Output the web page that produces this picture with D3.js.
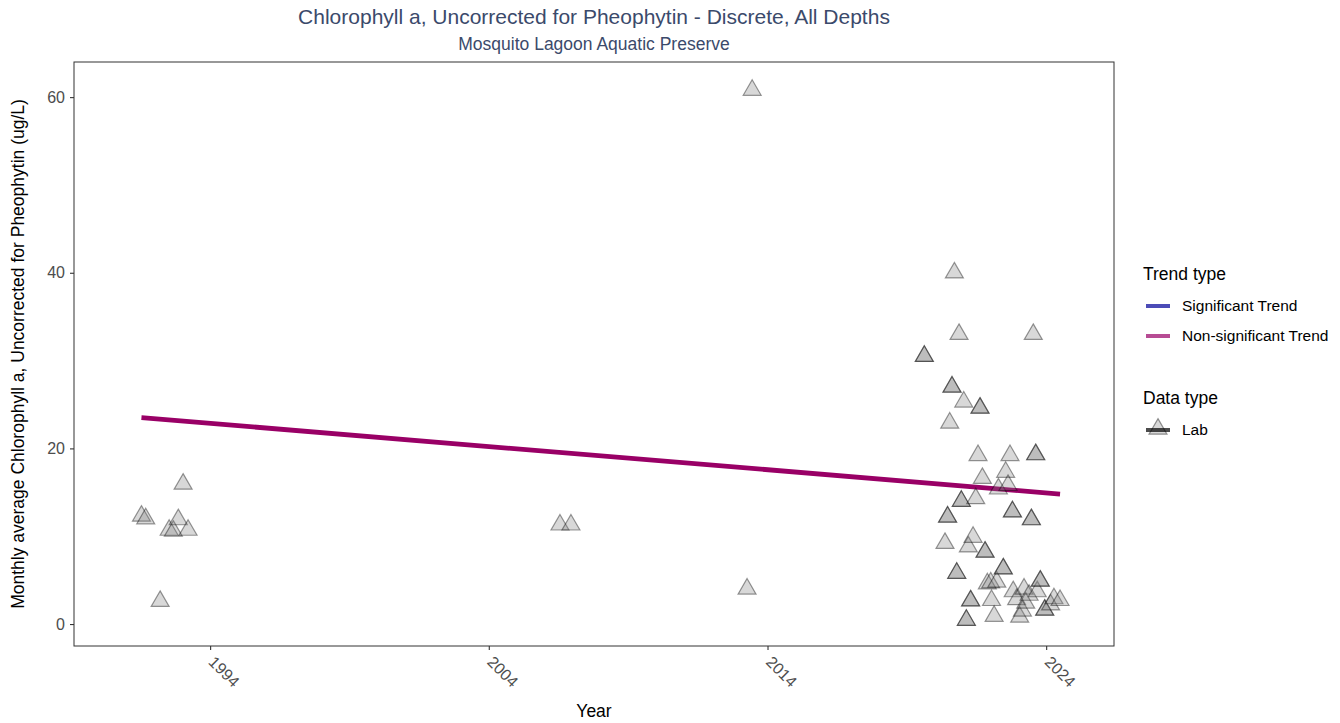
<!DOCTYPE html>
<html>
<head>
<meta charset="utf-8">
<script src="https://cdn.jsdelivr.net/npm/d3@7"></script>
<style>
  body { margin: 0; background: #fff; }
  svg { font-family: "Liberation Sans", Arial, sans-serif; }
</style>
</head>
<body>
<div id="chart"></div>
<script>
// sample dates and monthly averages (ug/L), duplicated entries overlap in the reference
const sampleDates = [
  '1991-07-16', '1991-09-10', '1992-03-17', '1992-07-13', '1992-09-06', '1992-11-10', '1993-01-12', '1993-03-18',
  '2006-07-22', '2006-12-13', '2013-04-08', '2013-06-14',
  '2019-08-18', '2019-08-18', '2020-05-15', '2020-06-18', '2020-06-18', '2020-07-16', '2020-08-15', '2020-08-15',
  '2020-09-15', '2020-10-16', '2020-10-16', '2020-11-15', '2020-12-15', '2020-12-15', '2021-01-16', '2021-02-19',
  '2021-02-19', '2021-03-17', '2021-04-16', '2021-04-16', '2021-05-18', '2021-06-22', '2021-07-22', '2021-08-17',
  '2021-08-17', '2021-09-17', '2021-10-22', '2021-10-22', '2021-11-21', '2022-01-04', '2022-01-15', '2022-02-18',
  '2022-03-25', '2022-04-15', '2022-06-18', '2022-06-18', '2022-07-19', '2022-08-19', '2022-09-14', '2022-10-16',
  '2022-10-16', '2022-10-26', '2022-12-10', '2023-01-19', '2023-02-24', '2023-03-17', '2023-04-08', '2023-05-22',
  '2023-06-21', '2023-06-21', '2023-07-16', '2023-08-17', '2023-08-17', '2023-09-06', '2023-10-16', '2023-10-16',
  '2023-12-13', '2023-12-13', '2024-02-28', '2024-04-12', '2024-07-01'
];
const sampleValues = [
  12.3, 12.0, 2.6, 10.7, 10.6, 11.9, 15.95, 10.7,
  11.3, 11.3, 4.0, 60.8,
  30.5, 30.5, 9.2, 12.2, 12.2, 22.9, 27.0, 27.0,
  40.0, 5.8, 5.8, 33.0, 14.0, 14.0, 25.3, 0.45,
  0.45, 8.8, 2.65, 2.65, 9.9, 14.3, 19.2, 24.6,
  24.6, 16.6, 8.2, 8.2, 4.6, 4.7, 2.7, 0.9,
  4.8, 15.4, 6.3, 6.3, 17.3, 15.8, 19.2, 12.8,
  12.8, 3.7, 2.8, 0.8, 1.5, 4.0, 2.4, 3.3,
  11.9, 11.9, 33.0, 19.3, 19.3, 3.7, 4.9, 4.9,
  1.6, 1.6, 2.2, 2.9, 2.7
];

// trend line end points
const trendDates = ['1991-07-16', '2024-07-01'];
const trendValues = [23.5, 14.8];

const xTickYears = [1994, 2004, 2014, 2024];
const yTicks = [0, 20, 40, 60];

const titleText = 'Chlorophyll a, Uncorrected for Pheophytin - Discrete, All Depths';
const subtitleText = 'Mosquito Lagoon Aquatic Preserve';
const yTitle = 'Monthly average Chlorophyll a, Uncorrected for Pheophytin (ug/L)';
const xTitle = 'Year';
const trendLegend = ['Significant Trend', 'Non-significant Trend'];
const trendColors = ['#000099', '#990066'];
const dataLegend = ['Lab'];

const W = 1340, H = 723;
const margin = { top: 62, right: 226, bottom: 77, left: 74 };
const width = W - margin.left - margin.right;
const height = H - margin.top - margin.bottom;

const parse = d3.timeParse('%Y-%m-%d');
const points = sampleDates.map((d, i) => ({ date: parse(d), value: sampleValues[i] }));
const trend = trendDates.map((d, i) => ({ date: parse(d), value: trendValues[i] }));

const svg = d3.select('#chart').append('svg')
  .attr('width', W)
  .attr('height', H);

const xScale = d3.scaleTime()
  .domain([parse('1989-02-12'), parse('2026-06-08')])
  .range([0, width]);
const yScale = d3.scaleLinear()
  .domain([-2.5, 64.0])
  .range([height, 0]);

const chart = svg.append('g')
  .attr('transform', `translate(${margin.left}, ${margin.top})`);

// x axis
const xAxis = svg.append('g')
  .attr('class', 'axis axis-x')
  .attr('transform', `translate(${margin.left}, ${margin.top + height})`)
  .call(d3.axisBottom(xScale)
    .tickValues(xTickYears.map(y => new Date(y, 0, 1)))
    .tickFormat(d3.timeFormat('%Y'))
    .tickSize(4)
    .tickSizeOuter(0));
xAxis.select('.domain').remove();
xAxis.selectAll('.tick line').attr('stroke', '#333').attr('stroke-width', 1.1);
xAxis.selectAll('.tick text')
  .attr('fill', '#4d4d4d')
  .style('font-size', '16px')
  .attr('text-anchor', 'start')
  .attr('y', 0)
  .attr('dy', 0)
  .attr('transform', 'translate(-3, 17) rotate(45)');

// y axis
const yAxis = svg.append('g')
  .attr('class', 'axis axis-y')
  .attr('transform', `translate(${margin.left}, ${margin.top})`)
  .call(d3.axisLeft(yScale).tickValues(yTicks).tickSize(4).tickSizeOuter(0));
yAxis.select('.domain').remove();
yAxis.selectAll('.tick line').attr('stroke', '#333').attr('stroke-width', 1.1);
yAxis.selectAll('.tick text')
  .attr('fill', '#4d4d4d')
  .style('font-size', '16px')
  .attr('x', -9);

// trend line
const line = d3.line()
  .x(d => xScale(d.date))
  .y(d => yScale(d.value));
chart.append('path')
  .datum(trend)
  .attr('d', line)
  .attr('fill', 'none')
  .attr('stroke', trendColors[1])
  .attr('stroke-width', 4.8);

// points
const tri = d3.symbol().type(d3.symbolTriangle).size(140);
chart.selectAll('.pt')
  .data(points)
  .enter()
  .append('path')
  .attr('class', 'pt')
  .attr('d', tri)
  .attr('transform', d => `translate(${xScale(d.date)}, ${yScale(d.value)})`)
  .attr('fill', '#7f7f7f')
  .attr('fill-opacity', 0.3)
  .attr('stroke', '#000')
  .attr('stroke-opacity', 0.4)
  .attr('stroke-width', 1.2);

// panel border
chart.append('rect')
  .attr('width', width)
  .attr('height', height)
  .attr('fill', 'none')
  .attr('stroke', '#333')
  .attr('stroke-width', 1);

// titles
svg.append('text')
  .attr('x', margin.left + width / 2)
  .attr('y', 24)
  .attr('text-anchor', 'middle')
  .attr('fill', '#3b4a6b')
  .style('font-size', '21px')
  .text(titleText);
svg.append('text')
  .attr('x', margin.left + width / 2)
  .attr('y', 50)
  .attr('text-anchor', 'middle')
  .attr('fill', '#3b4a6b')
  .style('font-size', '17.5px')
  .text(subtitleText);

svg.append('text')
  .attr('x', margin.left + width / 2)
  .attr('y', 717)
  .attr('text-anchor', 'middle')
  .attr('fill', '#000')
  .style('font-size', '17.5px')
  .text(xTitle);
svg.append('text')
  .attr('transform', `translate(24, ${margin.top + height / 2}) rotate(-90)`)
  .attr('text-anchor', 'middle')
  .attr('fill', '#000')
  .style('font-size', '17.5px')
  .text(yTitle);

// legend
const legend = svg.append('g').attr('transform', 'translate(1143, 0)');
legend.append('text')
  .attr('x', 0).attr('y', 280)
  .style('font-size', '17.5px')
  .text('Trend type');
trendLegend.forEach((t, i) => {
  const y = 306 + i * 30;
  legend.append('line')
    .attr('x1', 3).attr('x2', 27).attr('y1', y).attr('y2', y)
    .attr('stroke', trendColors[i])
    .attr('stroke-opacity', 0.7)
    .attr('stroke-width', 4);
  legend.append('text')
    .attr('x', 39).attr('y', y + 5)
    .style('font-size', '15.5px')
    .text(t);
});
legend.append('text')
  .attr('x', 0).attr('y', 404)
  .style('font-size', '17.5px')
  .text('Data type');
dataLegend.forEach((t, i) => {
  const y = 430 + i * 30;
  legend.append('path')
    .attr('d', tri)
    .attr('transform', `translate(15, ${y - 1})`)
    .attr('fill', '#7f7f7f')
    .attr('fill-opacity', 0.3)
    .attr('stroke', '#000')
    .attr('stroke-opacity', 0.4)
    .attr('stroke-width', 1.2);
  legend.append('line')
    .attr('x1', 3).attr('x2', 27).attr('y1', y).attr('y2', y)
    .attr('stroke', '#000')
    .attr('stroke-opacity', 0.7)
    .attr('stroke-width', 4);
  legend.append('text')
    .attr('x', 39).attr('y', y + 5)
    .style('font-size', '15.5px')
    .text(t);
});
</script>
</body>
</html>
